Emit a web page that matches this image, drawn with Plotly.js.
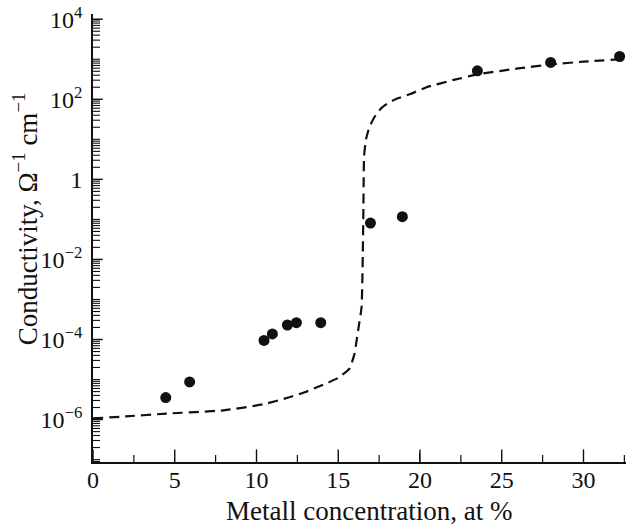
<!DOCTYPE html>
<html>
<head>
<meta charset="utf-8">
<script src="https://cdn.plot.ly/plotly-3.0.1.min.js"></script>
<style>html,body{margin:0;padding:0;background:#fff;}#chart{width:627px;height:527px;}</style>
</head>
<body>
<div id="chart"></div>
<script>
// Measured points
var pointX = [4.45, 5.91, 10.46, 10.97, 11.89, 12.44, 13.93, 16.97, 18.92, 23.51, 27.99, 32.21];
var pointY = [3.55e-6, 8.7e-6, 9.5e-5, 1.38e-4, 2.3e-4, 2.63e-4, 2.63e-4, 0.081, 0.117, 515, 830, 1170];

// Dashed fit curve
var curveX = [0, 2, 4.5, 8, 10.4, 12, 13, 14, 15, 15.7, 16.0, 16.13, 16.3, 16.43, 16.5, 16.54, 16.58, 16.7, 16.9, 17.2, 17.6, 18.0, 18.5, 19.4, 20.4, 22, 23.5, 26, 28, 30, 32.6];
var curveY = [1.07e-6, 1.2e-6, 1.41e-6, 1.7e-6, 2.4e-6, 3.6e-6, 4.9e-6, 7.2e-6, 1.1e-5, 1.9e-5, 4.5e-5, 9.8e-5, 2.8e-4, 6.6e-4, 1.17e-2, 0.21, 3.8, 10, 20, 35, 58, 78, 100, 135, 200, 300, 417, 590, 740, 870, 1020];

// Tick labels / tick positions
var yTickVals = [1e-6, 1e-4, 1e-2, 1, 1e2, 1e4];
var yTickText = ['10<sup>\u22126</sup>', '10<sup>\u22124</sup>', '10<sup>\u22122</sup>', '1', '10<sup>2</sup>', '10<sup>4</sup>'];
var xTickVals = [0, 5, 10, 15, 20, 25, 30];
var xTickText = ['0', '5', '10', '15', '20', '25', '30'];
var xMinorVals = [2.5, 7.5, 12.5, 17.5, 22.5, 27.5, 32.5];

var xTitle = 'Metall concentration, at %';
var yTitle = 'Conductivity, \u03A9<sup>\u22121</sup> cm<sup>\u22121</sup>';

var FONT = 'Liberation Serif, Times New Roman, serif';
var Y_RANGE = [-7.06, 4.13];
var X_RANGE = [0, 32.6];

// minor log ticks (every 1..9 x 10^k inside the range, except labelled decades)
var yMinor = [];
for (var e = -8; e <= 4; e++) {
  for (var m = 1; m <= 9; m++) {
    var v = m * Math.pow(10, e);
    var lv = Math.log10(v);
    if (lv >= Y_RANGE[0] && lv <= Y_RANGE[1] && yTickVals.indexOf(v) < 0) yMinor.push(v);
  }
}

// tick marks drawn as half-clipped line markers sitting on the axes (pointing into the plot)
var yBottom = Math.pow(10, Y_RANGE[0]);
var xLeft = X_RANGE[0];
function fill(n, val) { var a = []; for (var i = 0; i < n; i++) a.push(val); return a; }
function tickTrace(xs, ys, symbol, size, width) {
  return {x: xs, y: ys, type: 'scatter', mode: 'markers', cliponaxis: true,
    marker: {symbol: symbol, size: size, color: '#111', line: {color: '#111', width: width}},
    hoverinfo: 'skip', showlegend: false};
}

var traces = [
  {x: curveX, y: curveY, type: 'scatter', mode: 'lines',
   line: {color: '#111', width: 2.2, dash: '10px,6px', shape: 'spline', smoothing: 0.4},
   hoverinfo: 'skip', showlegend: false},
  {x: pointX, y: pointY, type: 'scatter', mode: 'markers',
   marker: {color: '#111', size: 11}, showlegend: false},
  tickTrace(xTickVals, fill(xTickVals.length, yBottom), 'line-ns-open', 18, 1.4),
  tickTrace(xMinorVals, fill(xMinorVals.length, yBottom), 'line-ns-open', 10, 1.2),
  tickTrace(fill(yTickVals.length, xLeft), yTickVals, 'line-ew-open', 14, 1.4),
  tickTrace(fill(yMinor.length, xLeft), yMinor, 'line-ew-open', 10, 1.1)
];

var layout = {
  width: 627, height: 527,
  margin: {l: 93, r: 1, t: 14, b: 65, pad: 0},
  paper_bgcolor: '#fff', plot_bgcolor: '#fff',
  font: {family: FONT, size: 24, color: '#111'},
  showlegend: false,
  xaxis: {
    range: X_RANGE, showgrid: false, zeroline: false,
    showline: true, linecolor: '#111', linewidth: 1.5, layer: 'above traces',
    tickmode: 'array', tickvals: xTickVals, ticktext: xTickText,
    ticks: 'inside', ticklen: 9, tickwidth: 1.4, tickcolor: '#111',
    ticklabelstandoff: -5,
    tickfont: {family: FONT, size: 24, color: '#111'}
  },
  yaxis: {
    type: 'log', range: Y_RANGE, showgrid: false, zeroline: false,
    showline: true, linecolor: '#111', linewidth: 1.5, layer: 'above traces',
    tickmode: 'array', tickvals: yTickVals, ticktext: yTickText,
    ticks: 'inside', ticklen: 7, tickwidth: 1.4, tickcolor: '#111',
    ticklabelstandoff: 4,
    tickfont: {family: FONT, size: 24, color: '#111'}
  },
  annotations: [
    {text: xTitle, xref: 'paper', yref: 'paper', x: 0.518, y: -0.11,
     xanchor: 'center', yanchor: 'middle', showarrow: false,
     font: {family: FONT, size: 27, color: '#111'}},
    {text: yTitle, xref: 'paper', yref: 'paper', x: -0.128, y: 0.5435,
     xanchor: 'center', yanchor: 'middle', showarrow: false, textangle: -90,
     font: {family: FONT, size: 27, color: '#111'}}
  ]
};

Plotly.newPlot('chart', traces, layout, {displayModeBar: false});
</script>
</body>
</html>
